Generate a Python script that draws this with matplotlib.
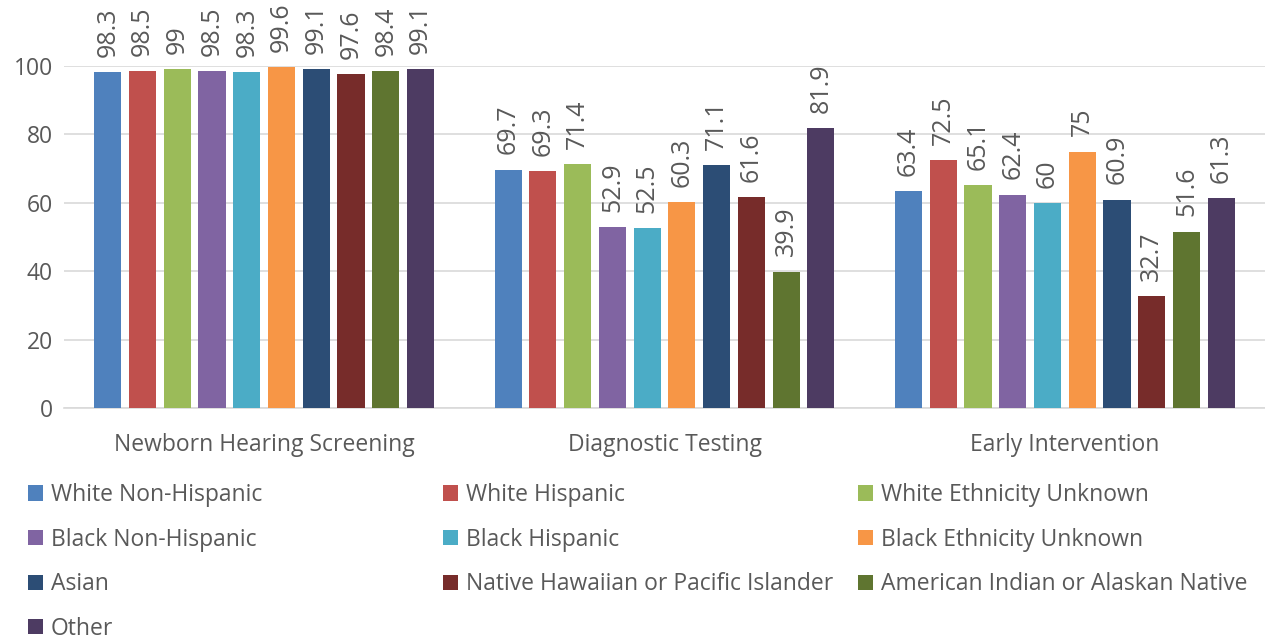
import numpy as np
import matplotlib.pyplot as plt

plt.rcParams['font.family'] = ['Open Sans', 'DejaVu Sans']

categories = ['Newborn Hearing Screening', 'Diagnostic Testing', 'Early Intervention']
groups = ['White Non-Hispanic', 'White Hispanic', 'White Ethnicity Unknown',
          'Black Non-Hispanic', 'Black Hispanic', 'Black Ethnicity Unknown',
          'Asian', 'Native Hawaiian or Pacific Islander', 'American Indian or Alaskan Native',
          'Other']
values = [
    [98.3, 69.7, 63.4],
    [98.5, 69.3, 72.5],
    [99, 71.4, 65.1],
    [98.5, 52.9, 62.4],
    [98.3, 52.5, 60],
    [99.6, 60.3, 75],
    [99.1, 71.1, 60.9],
    [97.6, 61.6, 32.7],
    [98.4, 39.9, 51.6],
    [99.1, 81.9, 61.3],
]
colors = ['#4F81BD', '#C0504D', '#9BBB59', '#8064A2', '#4BACC6',
          '#F79646', '#2C4D75', '#772C2A', '#5F7530', '#4D3B62']

txt = '#595959'
fs = 16.5

fig = plt.figure(figsize=(12.65, 6.39), dpi=100)
ax = fig.add_axes([0.0506, 0.3615, 0.9494, 0.5352])

x = np.arange(len(categories))
pitch = 0.0868
width = 0.068
bars = []
for i, (g, v, c) in enumerate(zip(groups, values, colors)):
    b = ax.bar(x + (i - 4.5) * pitch, v, width, color=c, label=g, zorder=3)
    ax.bar_label(b, labels=[f'{val:g}' for val in v], rotation=90, padding=11,
                 fontsize=18, color=txt)
    bars.append(b)

ax.set_xlim(-0.5, 2.5)
ax.set_ylim(0, 100)
ax.set_yticks(range(0, 101, 20))
ax.set_xticks(x)
ax.set_xticklabels(categories)
ax.tick_params(axis='both', length=0, labelsize=fs, labelcolor=txt)
ax.tick_params(axis='x', pad=18)
ax.tick_params(axis='y', pad=8)
ax.grid(axis='y', color='#D9D9D9', linewidth=1.2, zorder=0)
for s in ['top', 'right', 'left']:
    ax.spines[s].set_visible(False)
ax.spines['bottom'].set_color('#D9D9D9')
ax.spines['bottom'].set_linewidth(1.2)

# legend in three columns, filled row by row
col_x = [28, 443, 858]
for k in range(3):
    idx = list(range(k, len(groups), 3))
    leg = fig.legend([bars[i] for i in idx], [groups[i] for i in idx],
                     loc='upper left', bbox_to_anchor=(col_x[k] / 1265, 1 - 483 / 639),
                     frameon=False, fontsize=fs, handlelength=0.65, handleheight=0.65,
                     handletextpad=0.35, labelspacing=0.9, borderaxespad=0, borderpad=0)
    for t in leg.get_texts():
        t.set_color(txt)

fig.savefig('out.png', dpi=100)
